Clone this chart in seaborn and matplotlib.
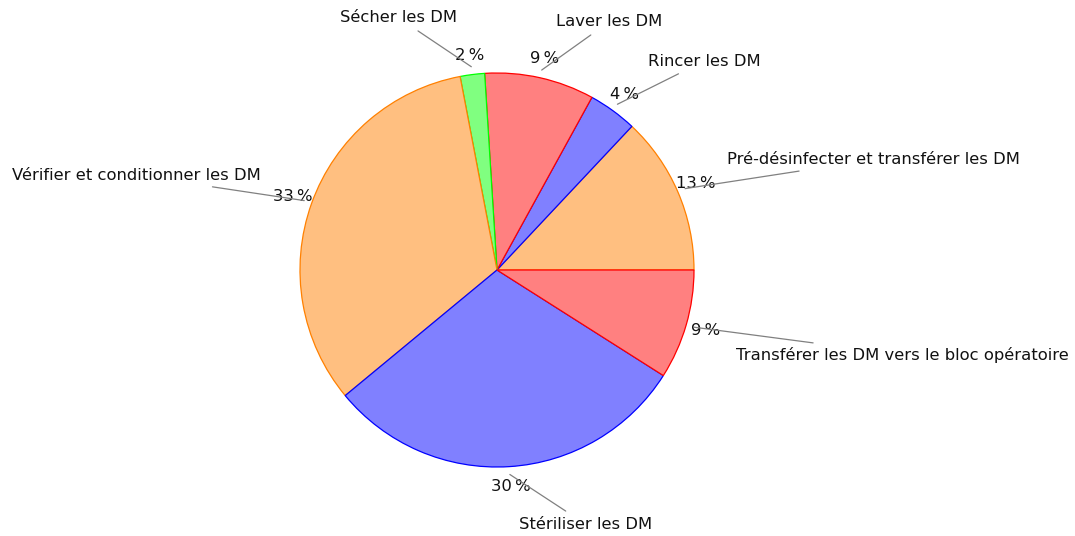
import numpy as np
import matplotlib
matplotlib.use("Agg")
import matplotlib.pyplot as plt
import seaborn as sns

# Share of working time per step of the sterilisation process (%)
etapes = [
    "Pré-désinfecter et transférer les DM",
    "Rincer les DM",
    "Laver les DM",
    "Sécher les DM",
    "Vérifier et conditionner les DM",
    "Stériliser les DM",
    "Transférer les DM vers le bloc opératoire",
]
parts = [13, 4, 9, 2, 33, 30, 9]

fill_colors = ["#FFBF80", "#8080FF", "#FF8080", "#80FF80", "#FFBF80", "#8080FF", "#FF8080"]
edge_colors = ["#FF8000", "#0000FF", "#FF0000", "#00FF00", "#FF8000", "#0000FF", "#FF0000"]

# Where each step name sits, in pie-radius units
label_pos = [(1.91, 0.56), (1.05, 1.06), (0.57, 1.26), (-0.50, 1.28),
             (-1.83, 0.48), (0.45, -1.29), (2.06, -0.43)]

sns.set_theme(style="white")
plt.rcParams["font.family"] = ["DejaVu Sans"]

fig = plt.figure(figsize=(10.75, 5.36), dpi=100)
ax = fig.add_axes([0, 0, 1, 1])

wedges, _, autotexts = ax.pie(
    parts,
    colors=fill_colors,
    startangle=0,
    counterclock=True,
    radius=1.0,
    autopct=lambda p: f"{p:.0f}\u202f%",
    pctdistance=1.1,
    textprops=dict(fontsize=11.8, color="#111111"),
    wedgeprops=dict(linewidth=0.9),
)
for w, ec in zip(wedges, edge_colors):
    w.set_edgecolor(ec)

for w, name, pos in zip(wedges, etapes, label_pos):
    mid = np.deg2rad((w.theta1 + w.theta2) / 2)
    ax.annotate(
        name,
        xy=(1.04 * np.cos(mid), 1.04 * np.sin(mid)),
        xytext=pos,
        ha="center", va="center",
        fontsize=11.8, color="#111111",
        arrowprops=dict(arrowstyle="-", color="gray", lw=0.9,
                        shrinkA=3, shrinkB=0),
    )

ax.set_xlim(-497 / 197, (1075 - 497) / 197)
ax.set_ylim(-(536 - 270) / 197, 270 / 197)
ax.set_aspect("auto")
ax.axis("off")

fig.savefig("out.png", dpi=100, facecolor="white")
